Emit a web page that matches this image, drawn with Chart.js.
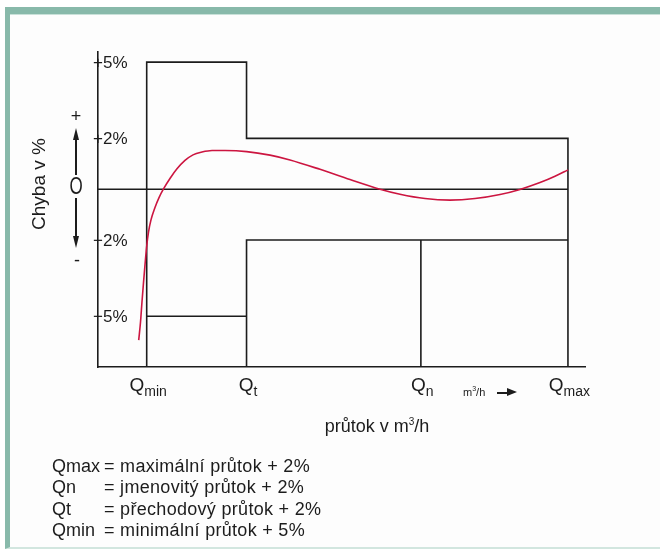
<!DOCTYPE html>
<html><head><meta charset="utf-8">
<script src="https://cdn.jsdelivr.net/npm/chart.js@4"></script>
<style>
html,body{margin:0;padding:0;background:#fff;width:660px;height:549px;overflow:hidden;font-family:"Liberation Sans",Arial,sans-serif;color:#1c1c1c;}
#frame{position:absolute;left:5px;top:7px;width:655px;height:542px;box-sizing:border-box;border-top:7px solid #88b9aa;border-left:5px solid #88b9aa;border-bottom:2px solid #d2e6df;background:#fdfdfd;}
#frame:before{content:"";position:absolute;left:0;right:0;top:0;height:1px;background:#c9e1d9;}
canvas{position:absolute;left:0;top:0;}
.t{position:absolute;white-space:nowrap;line-height:1;}
.xl{font-size:19px;transform:translateX(-50%);top:375px;}
.xl .sub{font-size:14px;position:relative;top:5px;}
#legend{position:absolute;left:52px;top:456px;font-size:18px;line-height:21.3px;}
#legend .k{display:inline-block;width:52px;}
#legend .v{letter-spacing:0.3px;}
.shaft{position:absolute;width:1.5px;background:#1c1c1c;}
.head{position:absolute;width:0;height:0;border-left:3.5px solid transparent;border-right:3.5px solid transparent;}
</style>
</head>
<body>
<div id="frame"></div>
<canvas id="c" width="660" height="549"></canvas>
<div id="overlay"></div>
<div class="t" style="left:38px;top:184px;font-size:19px;transform:translate(-50%,-50%) rotate(-90deg);">Chyba v %</div>
<div class="t" style="left:76px;top:116px;font-size:18px;transform:translate(-50%,-50%);">+</div>
<div class="head" style="left:72.5px;top:128px;border-bottom:12px solid #1c1c1c;"></div>
<div class="shaft" style="left:75.3px;top:139px;height:36px;"></div>
<div class="t" style="left:76px;top:186px;font-size:17px;transform:translate(-50%,-50%) scaleY(1.45);">O</div>
<div class="shaft" style="left:75.3px;top:198px;height:39px;"></div>
<div class="head" style="left:72.5px;top:236px;border-top:12px solid #1c1c1c;"></div>
<div class="t" style="left:77px;top:260px;font-size:18px;transform:translate(-50%,-50%);">-</div>
<div class="t" style="left:463px;top:385px;font-size:11px;">m<sup style="font-size:7px;">3</sup>/h</div>
<div class="shaft" style="left:497px;top:391.5px;width:12px;height:2px;"></div>
<div class="head" style="left:507px;top:388px;border:0;border-top:4.5px solid transparent;border-bottom:4.5px solid transparent;border-left:10px solid #1c1c1c;"></div>
<div class="t" style="left:377px;top:426px;font-size:18px;transform:translate(-50%,-50%);">průtok v m<sup style="font-size:10px;">3</sup>/h</div>
<div id="legend">
<div><span class="k">Qmax</span><span class="v">= maximální průtok + 2%</span></div>
<div><span class="k">Qn</span><span class="v">= jmenovitý průtok + 2%</span></div>
<div><span class="k">Qt</span><span class="v">= přechodový průtok + 2%</span></div>
<div><span class="k">Qmin</span><span class="v">= minimální průtok + 5%</span></div>
</div>
<script>
// flow-rate positions on the x axis: Qmin, Qt, Qn, Qmax
const qPos = [1.0, 3.05, 6.63, 9.65];
const qMain = ['Q', 'Q', 'Q', 'Q'];
const qSub = ['min', 't', 'n', 'max'];
// y axis ticks (error in %)
const yTicks = [5, 2, -2, -5];
const yTickLabels = ['+5%', '+2%', '\u22122%', '\u22125%'];
// permitted error limits: [Qmin..Qt, Qt..Qmax]
const limitUpper = [5, 2];
const limitLower = [-5, -2];
const curveX = [0.836,0.873,0.903,0.934,0.965,1.000,1.037,1.088,1.170,1.253,1.345,1.478,1.622,1.786,1.951,2.136,2.341,2.608,3.053,3.532,3.943,4.559,5.175,5.791,6.201,6.715,7.228,7.741,8.255,8.665,9.076,9.384,9.651];
const curveY = [-5.94,-5.23,-4.44,-3.69,-2.98,-2.24,-1.69,-1.21,-0.72,-0.33,0.01,0.42,0.80,1.13,1.35,1.46,1.52,1.52,1.48,1.34,1.15,0.78,0.38,0.00,-0.20,-0.37,-0.43,-0.37,-0.21,-0.01,0.26,0.51,0.76];
const xRange = [0, 10];
const yRange = [-7, 5.4];

const ink = '#1c1c1c';
const lw = 1.6;
const seg = pts => ({data: pts, borderColor: ink, borderWidth: lw, pointRadius: 0, showLine: true, tension: 0});
const P = (x, y) => ({x, y});
const [qMin, qT, qN, qMax] = qPos;
const yBot = yRange[0];

const chart = new Chart(document.getElementById('c'), {
  type: 'scatter',
  data: {datasets: [
    {label: 'Chyba', data: curveX.map((x, i) => P(x, curveY[i])), borderColor: '#cc1540', borderWidth: 1.6, pointRadius: 0, showLine: true, cubicInterpolationMode: 'monotone'},
    seg([P(qMin, yBot), P(qMin, limitUpper[0]), P(qT, limitUpper[0]), P(qT, limitUpper[1]), P(qMax, limitUpper[1]), P(qMax, yBot)]),
    seg([P(qMin, limitLower[0]), P(qT, limitLower[0])]),
    seg([P(qT, yBot), P(qT, limitLower[1]), P(qMax, limitLower[1])]),
    seg([P(qN, limitLower[1]), P(qN, yBot)]),
    seg([P(xRange[0], 0), P(qMax, 0)])
  ]},
  options: {
    responsive: false,
    animation: false,
    layout: {padding: {left: 98, top: 52, right: 75, bottom: 182}},
    plugins: {legend: {display: false}, tooltip: {enabled: false}},
    scales: {
      x: {type: 'linear', min: xRange[0], max: xRange[1],
          grid: {drawOnChartArea: false, drawTicks: false},
          border: {display: true, color: ink, width: lw},
          ticks: {display: false},
          afterFit: s => { s.height = 0; }},
      y: {type: 'linear', min: yRange[0], max: yRange[1],
          afterBuildTicks: s => { s.ticks = yTicks.map(v => ({value: v})); },
          grid: {drawOnChartArea: false, drawTicks: false},
          border: {display: true, color: ink, width: lw},
          ticks: {mirror: true, padding: -5, labelOffset: 1, color: ink,
                  font: {family: 'Liberation Sans', size: 17},
                  callback: v => yTickLabels[yTicks.indexOf(v)]},
          afterFit: s => { s.width = 0; }}
    }
  }
});

const ov = document.getElementById('overlay');
qPos.forEach((q, i) => {
  const d = document.createElement('div');
  d.className = 't xl';
  d.innerHTML = qMain[i] + '<span class="sub">' + qSub[i] + '</span>';
  d.style.left = (chart.scales.x.getPixelForValue(q) + 1.5) + 'px';
  ov.appendChild(d);
});
</script>
</body></html>
